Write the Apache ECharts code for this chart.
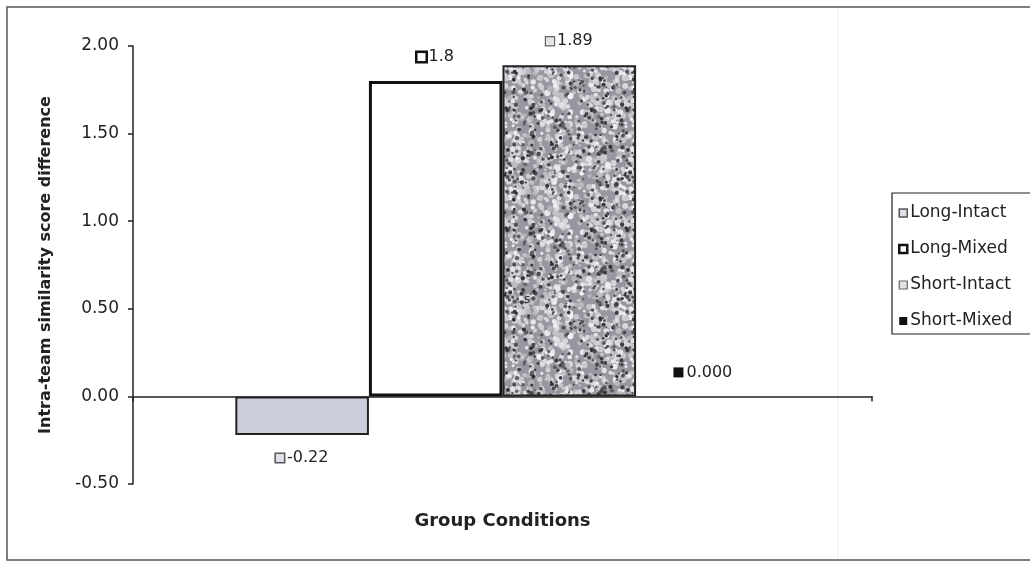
<!DOCTYPE html>
<html><head><meta charset="utf-8">
<script src="https://cdn.jsdelivr.net/npm/echarts@6/dist/echarts.min.js"></script>
<style>html,body{margin:0;padding:0;background:#fff}#c{width:1030px;height:564px}</style>
</head><body><div id="c"></div>
<script>
// ---- data ----
const categories = ['Group Conditions'];
const seriesNames = ['Long-Intact', 'Long-Mixed', 'Short-Intact', 'Short-Mixed'];
const longIntact = [-0.22];
const longMixed = [1.8];
const shortIntact = [1.89];
const shortMixed = [0];
const valueLabels = ['-0.22', '1.8', '1.89', '0.000'];
const yMin = -0.5, yMax = 2, yStep = 0.5;
const yAxisTitle = 'Intra-team similarity score difference';
const xAxisTitle = 'Group Conditions';

// ---- speckle texture (deterministic hash, style only) ----
function hash(x, y) {
  let n = Math.imul(x, 374761393) + Math.imul(y, 668265263);
  n = Math.imul(n ^ (n >>> 13), 1274126177);
  n = n ^ (n >>> 16);
  return (n >>> 0) / 4294967295;
}
function makeSpeckle() {
  const s = 120, cv = document.createElement('canvas');
  cv.width = s; cv.height = s;
  const ctx = cv.getContext('2d');
  ctx.fillStyle = '#97979f';
  ctx.fillRect(0, 0, s, s);
  function blob(cx, cy, r, col) {
    ctx.fillStyle = col;
    for (const dx of [-s, 0, s]) for (const dy of [-s, 0, s]) {
      ctx.beginPath(); ctx.arc(cx + dx, cy + dy, r, 0, Math.PI * 2); ctx.fill();
    }
  }
  for (let k = 0; k < 650; k++) {
    const x = hash(k, 1) * s, y = hash(k, 2) * s, r = 1.2 + hash(k, 3) * 2.0;
    const v = Math.round(180 + hash(k, 4) * 60);
    blob(x, y, r, 'rgb(' + v + ',' + v + ',' + Math.min(255, v + 6) + ')');
  }
  for (let k = 0; k < 280; k++) {
    const x = hash(k, 11) * s, y = hash(k, 12) * s, r = 0.9 + hash(k, 13) * 1.3;
    const v = Math.round(45 + hash(k, 14) * 55);
    blob(x, y, r, 'rgb(' + v + ',' + v + ',' + (v + 6) + ')');
  }
  return cv;
}
const speckle = makeSpeckle();

const FONT = 'DejaVu Sans';
const keyStyles = [
  { width: 8, height: 8, backgroundColor: '#dfe1e8', borderColor: '#555', borderWidth: 1.5 },
  { width: 8, height: 8, backgroundColor: '#fff', borderColor: '#111', borderWidth: 2.5 },
  { width: 8, height: 8, backgroundColor: '#e4e4e8', borderColor: '#666', borderWidth: 1.2 },
  { width: 10, height: 10, backgroundColor: '#111', borderColor: '#111', borderWidth: 0 }
];
const barStyles = [
  { color: '#cbcedb', borderColor: '#222', borderWidth: 2 },
  { color: '#ffffff', borderColor: '#111', borderWidth: 3 },
  { color: { image: speckle, repeat: 'repeat' }, borderColor: '#222', borderWidth: 2 },
  { color: '#111', borderColor: '#111', borderWidth: 0 }
];
const seriesData = [longIntact, longMixed, shortIntact, shortMixed];

const series = seriesData.map((d, i) => ({
  name: seriesNames[i],
  type: 'bar',
  data: d,
  barGap: '0%',
  barCategoryGap: '27.7%',
  itemStyle: barStyles[i],
  emphasis: { disabled: true },
  label: {
    show: true,
    position: d[0] < 0 ? 'bottom' : 'top',
    distance: d[0] < 0 ? 15 : 16,
    formatter: '{k|}{v|' + valueLabels[i] + '}',
    rich: {
      k: keyStyles[i],
      v: { fontFamily: FONT, fontSize: 16, color: '#222', padding: [0, 0, 0, 3] }
    }
  }
}));

const legendIcons = [
  { color: '#dfe1e8', borderColor: '#555', borderWidth: 1.5 },
  { color: '#fff', borderColor: '#111', borderWidth: 2.5 },
  { color: '#e4e4e8', borderColor: '#666', borderWidth: 1.2 },
  { color: '#111', borderColor: '#111', borderWidth: 0 }
];

const chart = echarts.init(document.getElementById('c'), null, { renderer: 'canvas' });
chart.setOption({
  animation: false,
  backgroundColor: '#fff',
  graphic: [
    { type: 'rect', shape: { x: 7, y: 7, width: 1040, height: 553 }, style: { fill: 'none', stroke: '#555', lineWidth: 1.5 }, z: -1 },
    { type: 'line', shape: { x1: 838, y1: 8, x2: 838, y2: 559 }, style: { stroke: '#f0eeee', lineWidth: 1 }, z: -1 },
    { type: 'text', x: 524, y: 294, z: 100, style: { text: 's', fontFamily: FONT, fontSize: 12, fill: '#333' } }
  ],
  grid: { left: 133, right: 158, top: 46, bottom: 80, outerBoundsMode: 'none', containLabel: false },
  legend: {
    orient: 'vertical',
    left: 892, top: 193,
    padding: [11, 40, 4, 6],
    itemWidth: 8, itemHeight: 8, itemGap: 18,
    icon: 'rect',
    borderColor: '#222', borderWidth: 1.2,
    backgroundColor: '#fff',
    textStyle: { fontFamily: FONT, fontSize: 17, color: '#222', lineHeight: 18, padding: [0, 0, 0, -2] },
    data: seriesNames.map((n, i) => ({ name: n, itemStyle: legendIcons[i] })),
    selectedMode: false
  },
  xAxis: {
    type: 'category',
    data: categories,
    name: xAxisTitle,
    nameLocation: 'middle',
    nameGap: 28,
    nameTextStyle: { fontFamily: FONT, fontSize: 18, fontWeight: 'bold', color: '#222' },
    axisLine: { onZero: true, lineStyle: { color: '#222', width: 1.5 } },
    axisTick: { show: true, length: 5, lineStyle: { color: '#222', width: 1.5 } },
    axisLabel: { show: false },
    splitLine: { show: false }
  },
  yAxis: {
    type: 'value',
    min: yMin, max: yMax, interval: yStep,
    name: yAxisTitle,
    nameLocation: 'middle',
    nameRotate: 90,
    nameGap: 79,
    nameTextStyle: { fontFamily: FONT, fontSize: 16, fontWeight: 'bold', color: '#222' },
    axisLine: { show: true, lineStyle: { color: '#222', width: 1.5 } },
    axisTick: { show: true, length: 5, lineStyle: { color: '#222', width: 1.5 } },
    axisLabel: { fontFamily: FONT, fontSize: 17, color: '#222', margin: 14, formatter: v => v.toFixed(2) },
    splitLine: { show: false }
  },
  series: series
});
</script>
</body></html>
